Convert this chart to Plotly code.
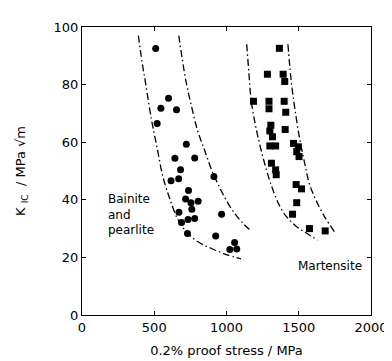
import plotly.graph_objects as go

# Bainite and pearlite (circles)
bain_x = [510, 599, 546, 654, 520, 722, 643, 780, 682, 616, 669, 913, 737, 717, 754, 804, 760, 671, 734, 780, 689, 966, 730, 925, 1056, 1023, 1071]
bain_y = [92.5, 75.3, 71.8, 71.3, 66.5, 59.3, 54.4, 54.5, 50.4, 46.6, 47.3, 48.1, 43.2, 40.3, 39.0, 39.5, 36.7, 35.7, 33.2, 33.5, 32.1, 35.0, 28.3, 27.4, 25.2, 22.7, 22.9]

# Martensite (squares)
mart_x = [1366, 1283, 1392, 1403, 1187, 1294, 1399, 1294, 1410, 1307, 1300, 1318, 1406, 1300, 1340, 1464, 1497, 1486, 1502, 1311, 1340, 1344, 1482, 1519, 1486, 1457, 1574, 1683]
mart_y = [92.6, 83.6, 83.6, 81.1, 74.2, 74.2, 74.2, 71.6, 70.4, 65.9, 63.9, 61.9, 64.4, 58.7, 58.7, 59.6, 58.4, 56.7, 55.0, 52.7, 50.4, 48.7, 45.3, 43.8, 39.0, 35.0, 30.0, 29.2]

# Band boundary curves
bain_lo_x = [390, 415, 440, 480, 520, 560, 610, 660, 720, 800, 900, 1000, 1100]
bain_lo_y = [97, 88, 80.5, 68, 58, 48, 40, 33.5, 29, 25.5, 23, 21, 19.5]
bain_hi_x = [670, 695, 720, 760, 800, 850, 900, 960, 1020, 1070, 1120, 1170]
bain_hi_y = [97, 88.5, 81, 72, 64, 57, 50, 43.5, 38, 34.4, 31.5, 29.2]
mart_lo_x = [1140, 1155, 1170, 1200, 1246, 1310, 1380, 1430, 1490, 1560, 1630]
mart_lo_y = [94, 84, 75, 66, 56, 45, 36.7, 33.3, 30.5, 28.2, 26]
mart_hi_x = [1425, 1435, 1443, 1458, 1475, 1500, 1541, 1574, 1618, 1680, 1750]
mart_hi_y = [94, 88, 83.6, 77, 71, 63, 52.7, 45.5, 40, 34, 28.7]

x_ticks = [0, 500, 1000, 1500, 2000]
y_ticks = [0, 20, 40, 60, 80, 100]

FONT = "DejaVu Sans"
line_style = dict(color="black", width=1.3, dash="7px,3px,1.5px,3px")

fig = go.Figure()
for cx, cy in [(bain_lo_x, bain_lo_y), (bain_hi_x, bain_hi_y), (mart_lo_x, mart_lo_y), (mart_hi_x, mart_hi_y)]:
    fig.add_trace(go.Scatter(x=cx, y=cy, mode="lines", line=dict(shape="spline", smoothing=1.0, **line_style),
                             showlegend=False, hoverinfo="skip"))

fig.add_trace(go.Scatter(x=bain_x, y=bain_y, mode="markers",
                         marker=dict(symbol="circle", size=7, color="black"), showlegend=False))
fig.add_trace(go.Scatter(x=mart_x, y=mart_y, mode="markers",
                         marker=dict(symbol="square", size=7, color="black"), showlegend=False))

fig.add_annotation(x=164, y=35, xref="x", yref="y", text="Bainite<br>and<br>pearlite",
                   showarrow=False, xanchor="left", yanchor="middle", align="left",
                   font=dict(family=FONT, size=12, color="black"))
fig.add_annotation(x=1954, y=17.1, xref="x", yref="y", text="Martensite",
                   showarrow=False, xanchor="right", yanchor="middle",
                   font=dict(family=FONT, size=12, color="black"))

axis_common = dict(showline=True, linecolor="black", linewidth=1.2, mirror="ticks",
                   ticks="inside", ticklen=4, tickcolor="black", tickwidth=1,
                   showgrid=False, zeroline=False,
                   tickfont=dict(family=FONT, size=13, color="black"))

fig.update_xaxes(range=[0, 2000], tickvals=x_ticks, ticktext=[str(v) for v in x_ticks],
                 title=dict(text="0.2% proof stress / MPa", font=dict(family=FONT, size=13, color="black"), standoff=12),
                 **axis_common)
fig.update_yaxes(range=[0, 100], tickvals=y_ticks, ticktext=[str(v) for v in y_ticks],
                 title=dict(text="K <sub>IC</sub>  / MPa √m", font=dict(family=FONT, size=13, color="black"), standoff=24),
                 **axis_common)

fig.update_layout(width=392, height=361, margin=dict(l=70, r=17, t=16, b=54),
                  paper_bgcolor="white", plot_bgcolor="white")

fig.write_html("out.html")
